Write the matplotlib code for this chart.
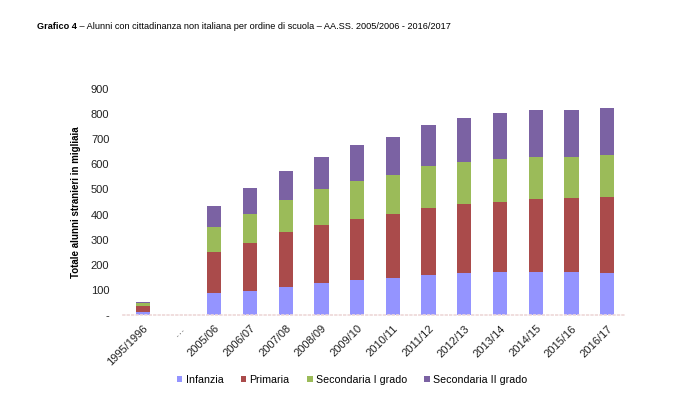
import numpy as np
import matplotlib
matplotlib.use("Agg")
import matplotlib.pyplot as plt
from matplotlib.ticker import FuncFormatter

plt.rcParams['font.family'] = ['Liberation Sans', 'DejaVu Sans']

anni = ['1995/1996', '\u2026', '2005/06', '2006/07', '2007/08', '2008/09', '2009/10',
        '2010/11', '2011/12', '2012/13', '2013/14', '2014/15', '2015/16', '2016/17']
infanzia = [12, 0, 86, 97, 112, 126, 139, 146, 160, 166, 170, 170, 170, 166]
primaria = [25, 0, 165, 190, 218, 234, 243, 255, 267, 275, 281, 291, 294, 303]
sec_primo = [10, 0, 100, 114, 126, 142, 152, 155, 166, 170, 170, 167, 164, 166]
sec_secondo = [5, 0, 82, 103, 119, 129, 141, 154, 163, 175, 182, 187, 187, 191]

serie = ['Infanzia', 'Primaria', 'Secondaria I grado', 'Secondaria II grado']
colori = ['#9494ff', '#aa4b4b', '#9bbb59', '#7b62a3']


def main():
    fig = plt.figure(figsize=(7, 3.97), dpi=100)
    ax = fig.add_axes([0.176, 0.2065, 0.717, 0.5695])

    x = np.arange(len(anni))
    base = np.zeros(len(anni))
    for nome, valori, c in zip(serie, [infanzia, primaria, sec_primo, sec_secondo], colori):
        ax.bar(x, valori, width=0.4, bottom=base, color=c, label=nome)
        base += np.array(valori)

    ax.set_ylim(0, 900)
    ax.set_xlim(-0.55, 13.5)
    ax.set_yticks(range(0, 901, 100))
    ax.yaxis.set_major_formatter(FuncFormatter(lambda v, p: '-' if v == 0 else '%d' % v))
    ax.set_xticks(x)
    ax.set_xticklabels(anni, rotation=45, ha='right', rotation_mode='anchor')
    ax.tick_params(axis='both', length=0, labelsize=8, colors='#222222')
    ax.tick_params(axis='y', pad=10)
    ax.tick_params(axis='x', pad=6)

    for s in ['top', 'right', 'left']:
        ax.spines[s].set_visible(False)
    ax.spines['bottom'].set_color('#eed8d8')
    ax.spines['bottom'].set_linestyle(':')
    ax.spines['bottom'].set_linewidth(1.2)

    ax.set_ylabel('Totale alunni stranieri in migliaia', fontsize=7, fontweight='bold')
    ax.yaxis.set_label_coords(-0.085, 0.5)

    fig.legend(loc='center', bbox_to_anchor=(0.503, 0.043), ncol=4, frameon=False,
               fontsize=7.7, handlelength=0.55, handleheight=0.55, handletextpad=0.3,
               columnspacing=1.6)

    t1 = fig.text(0.053, 0.933, 'Grafico 4', fontsize=6.6, fontweight='bold',
                  va='center', ha='left')
    fig.canvas.draw()
    bb = t1.get_window_extent()
    fig.text(bb.x1 / fig.bbox.width, 0.933,
             ' \u2013 Alunni con cittadinanza non italiana per ordine di scuola \u2013 AA.SS. 2005/2006 - 2016/2017',
             fontsize=6.6, va='center', ha='left')

    fig.savefig('out.png', dpi=100)


if __name__ == '__main__':
    main()
